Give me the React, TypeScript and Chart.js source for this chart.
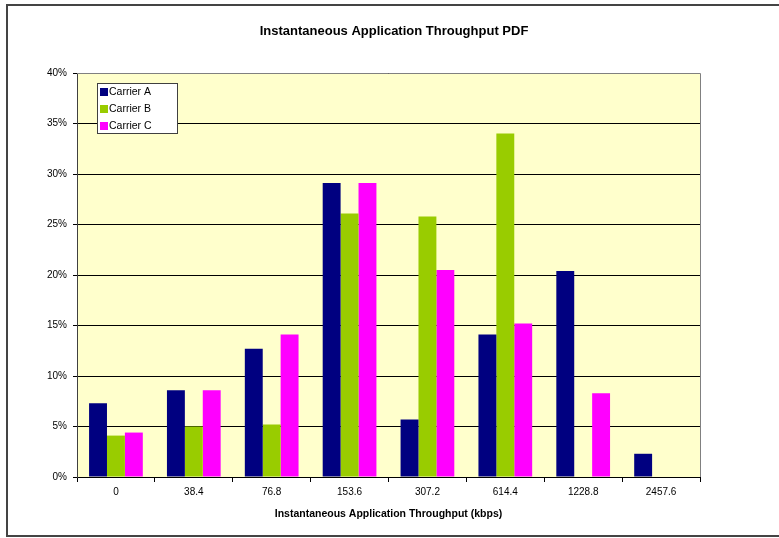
import React, { useEffect, useRef } from "react";
import { Chart, registerables } from "chart.js";

Chart.register(...registerables);

const categories = ["0", "38.4", "76.8", "153.6", "307.2", "614.4", "1228.8", "2457.6"];
const carrierA = [7.3, 8.6, 12.7, 29.1, 5.7, 14.1, 20.4, 2.3];
const carrierB = [4.1, 5.0, 5.2, 26.1, 25.8, 34.0, null, null];
const carrierC = [4.4, 8.6, 14.1, 29.1, 20.5, 15.2, 8.3, null];
const seriesNames = ["Carrier A", "Carrier B", "Carrier C"];
const seriesColors = ["#000080", "#99CC00", "#FF00FF"];
const titleText = "Instantaneous Application Throughput PDF";
const xTitle = "Instantaneous Application Throughput (kbps)";

const FONT = "'Liberation Sans', Arial, sans-serif";

const decorPlugin = {
  id: "decor",
  beforeDraw(chart: any) {
    const { ctx, chartArea } = chart;
    ctx.save();
    ctx.fillStyle = "#FFFFFF";
    ctx.fillRect(0, 0, chart.width, chart.height);
    ctx.fillStyle = "#FFFFCC";
    ctx.fillRect(chartArea.left, chartArea.top, chartArea.right - chartArea.left, chartArea.bottom - chartArea.top);
    ctx.restore();
  },
  afterDraw(chart: any) {
    const { ctx, chartArea } = chart;
    ctx.save();
    // plot border (top & right)
    ctx.strokeStyle = "#808080";
    ctx.lineWidth = 1;
    ctx.beginPath();
    ctx.moveTo(chartArea.left, chartArea.top + 0.5);
    ctx.lineTo(chartArea.right + 0.5, chartArea.top + 0.5);
    ctx.lineTo(chartArea.right + 0.5, chartArea.bottom);
    ctx.stroke();
    // outer frame
    ctx.strokeStyle = "#444444";
    ctx.lineWidth = 2;
    ctx.strokeRect(7, 5, 800, 531);
    // title
    ctx.fillStyle = "#000";
    ctx.font = "bold 13px " + FONT;
    ctx.textAlign = "center";
    ctx.textBaseline = "middle";
    ctx.fillText(titleText, 394, 31);
    // legend
    const lx = 97, ly = 83, lw = 80, lh = 50;
    ctx.fillStyle = "#FFFFFF";
    ctx.fillRect(lx, ly, lw, lh);
    ctx.strokeStyle = "#404040";
    ctx.lineWidth = 1;
    ctx.strokeRect(lx + 0.5, ly + 0.5, lw, lh);
    ctx.font = "10.5px " + FONT;
    ctx.textAlign = "left";
    chart.data.datasets.forEach((ds: any, i: number) => {
      const cy = ly + 9 + i * 17;
      ctx.fillStyle = ds.backgroundColor;
      ctx.fillRect(lx + 3, cy - 4, 8, 8);
      ctx.fillStyle = "#000";
      ctx.fillText(ds.label, lx + 12, cy + 0.5);
    });
    ctx.restore();
  },
};

export default function App() {
  const ref = useRef<HTMLCanvasElement>(null);
  useEffect(() => {
    const chart = new Chart(ref.current!, {
      type: "bar",
      data: {
        labels: categories,
        datasets: [carrierA, carrierB, carrierC].map((d, i) => ({
          label: seriesNames[i],
          data: d,
          backgroundColor: seriesColors[i],
          borderWidth: 0,
          categoryPercentage: 0.69,
          barPercentage: 1.0,
        })),
      },
      options: {
        animation: false,
        responsive: false,
        maintainAspectRatio: false,
        layout: { padding: { top: 73, right: 79, bottom: 14, left: 0 } },
        plugins: {
          legend: { display: false },
          title: { display: false },
          tooltip: { enabled: false },
        },
        scales: {
          x: {
            offset: true,
            grid: {
              offset: true,
              drawOnChartArea: false,
              drawTicks: true,
              tickLength: 5,
              color: "#000",
            },
            border: { color: "#000", width: 1 },
            ticks: { color: "#000", font: { family: FONT, size: 10 }, padding: 4, maxRotation: 0 },
            title: {
              display: true,
              text: xTitle,
              color: "#000",
              font: { family: FONT, size: 10.5, weight: "bold" },
              padding: { top: 4, bottom: 4 },
            },
            afterFit(scale: any) {
              scale.height = 47;
            },
          },
          y: {
            min: 0,
            max: 40,
            grid: { color: "#000", lineWidth: 1, tickLength: 4, drawTicks: true },
            border: { color: "#404040", width: 1 },
            ticks: {
              stepSize: 5,
              color: "#000",
              font: { family: FONT, size: 10 },
              padding: 6,
              callback: (v: any) => v + "%",
            },
            afterFit(scale: any) {
              scale.width = 77;
            },
          },
        },
      },
      plugins: [decorPlugin],
    } as any);
    return () => chart.destroy();
  }, []);
  return (
    <div style={{ position: "fixed", left: 0, top: 0, width: 779, height: 538, background: "#fff" }}>
      <canvas ref={ref} width={779} height={538} style={{ width: 779, height: 538 }} />
    </div>
  );
}
